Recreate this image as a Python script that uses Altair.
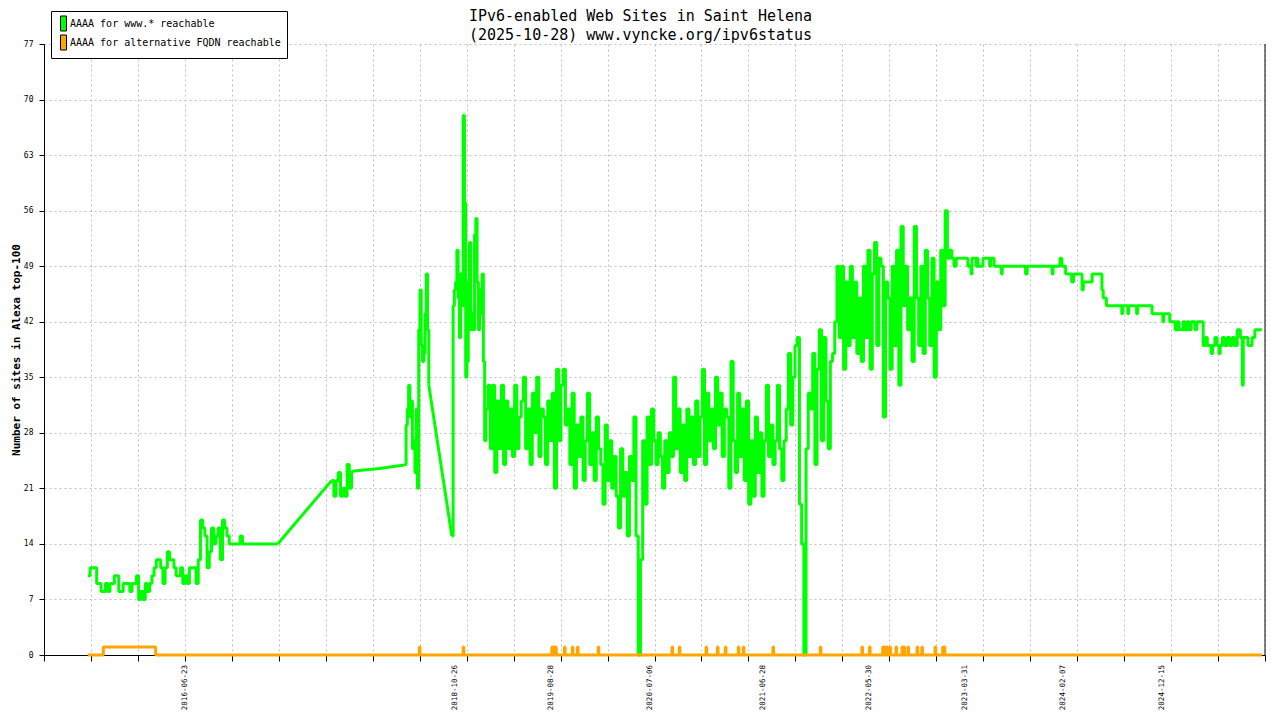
import altair as alt
import pandas as pd

GREEN = "#00ff00"
ORANGE = "#ffa500"
MONO = "DejaVu Sans Mono"
WWW = "AAAA for www.* reachable"
ALT = "AAAA for alternative FQDN reachable"
W, H = 1221, 611

# gnuplot autoscaled x range, the dated labels it printed, y ticks
x_start, x_end = "2015-04-03", "2025-11-07"
label_dates = ["2016-06-23", "2018-10-26", "2019-08-28", "2020-07-06", "2021-06-28",
               "2022-05-30", "2023-03-31", "2024-02-07", "2024-12-15"]
y_ticks = list(range(0, 78, 7))

# www.* reachable -- sampled blocks (first day, days between samples, values)
www_2015 = [10, 11, 11, 11, 9, 9, 8, 8, 9, 8,
            9, 9, 10, 10, 8, 8, 9, 9, 9, 8,
            9, 9, 10, 7, 8, 7, 9, 8, 9, 10,
            11, 12, 12, 11, 9, 11, 13, 12, 12, 11,
            10, 10, 11, 9, 10, 9, 11, 11, 11, 9,
            12, 17, 16, 15, 11, 13, 16, 14, 15, 16,
            12, 17, 16, 15, 14, 14, 14, 14, 14, 15,
            14, 14, 14, 14, 14, 14, 14, 14, 14, 14,
            14, 14, 14, 14, 14, 14, 14]
www_2017 = [22, 20, 22, 23, 20, 21, 20, 24, 21, 23]
www_2018_flat_dates = ["2017-12-10", "2018-03-01", "2018-05-14"]
www_2018_flat = [23.2, 23.5, 23.9]
www_2018a = [24, 29, 31, 34, 30, 32, 26, 27, 23, 31, 21, 41, 46, 39, 37, 38, 43, 48, 41, 34]
www_2018b = [15, 44, 46, 47, 51, 45, 40, 48, 44, 68, 57, 35, 37, 47, 52, 41, 43, 41,
             53, 55, 47, 41, 46, 43, 48, 37, 27]
www_2019 = [31, 34, 26, 34, 23, 32, 26, 34, 24, 32, 26, 31, 25, 34, 26, 30, 32,
            35, 26, 31, 24, 33, 28, 35, 25, 31,
            30, 24, 32, 27, 33, 21, 36, 27, 34, 36,
            29, 31, 24, 33, 21, 29, 25, 30, 22, 27,
            33, 24, 28, 22, 30, 26, 24, 19, 29, 22,
            27, 21, 25, 20, 16, 26, 20, 23, 15, 25,
            22, 30, 15, 0, 12, 27, 19, 30, 24, 31,
            27, 24, 28, 25, 21, 27, 23, 28, 25, 35,
            26, 31, 23, 29, 22, 31, 25, 30, 24,
            32, 25, 30, 36, 24, 33, 27, 31, 26, 35,
            29, 33, 25, 31, 30, 21, 37, 27, 23, 33,
            25, 31, 22, 32, 19, 27, 20, 30, 23, 28,
            20, 27, 34, 25, 29, 24, 27, 34, 26, 22,
            27, 31, 38, 29, 35, 39, 40, 19, 14, 0,
            26, 33, 31, 38, 24, 36, 41, 27, 40, 32,
            26, 37, 38, 42, 49, 40, 49, 36, 47, 39,
            49, 40, 47, 38, 45, 37, 49, 40, 51, 36,
            48, 52, 39, 50, 49, 30, 47, 45, 36, 49,
            39, 51, 34, 54, 44, 49, 41, 45, 37, 54,
            45, 39, 49, 38, 51, 45, 39, 50, 35, 47,
            41, 51, 44, 56, 50, 51, 50, 49, 50, 50]

# www.* reachable -- the quiet tail, as change points
www_tail_dates = ["2023-03-18", "2023-04-10", "2023-04-20", "2023-04-23", "2023-05-06",
                  "2023-05-09", "2023-05-12", "2023-05-28", "2023-06-18", "2023-06-21",
                  "2023-07-02", "2023-07-25", "2023-07-28", "2023-10-10", "2023-10-15",
                  "2024-01-02", "2024-01-05", "2024-01-27", "2024-02-02", "2024-02-14",
                  "2024-03-04", "2024-03-10", "2024-04-06", "2024-04-10", "2024-05-08",
                  "2024-06-08", "2024-06-12", "2024-06-22", "2024-08-10", "2024-08-13",
                  "2024-08-29", "2024-09-01", "2024-09-26", "2024-09-29", "2024-11-14",
                  "2024-12-18", "2024-12-21", "2025-01-09", "2025-01-26", "2025-02-01",
                  "2025-02-07", "2025-02-20", "2025-02-26", "2025-03-05", "2025-03-12",
                  "2025-03-18", "2025-03-30", "2025-04-05", "2025-04-25", "2025-05-01",
                  "2025-05-08", "2025-05-20", "2025-05-25", "2025-06-01", "2025-06-08",
                  "2025-06-14", "2025-06-18", "2025-06-25", "2025-07-02", "2025-07-10",
                  "2025-07-18", "2025-07-26", "2025-08-02", "2025-08-11", "2025-08-21",
                  "2025-08-27", "2025-08-30", "2025-09-14", "2025-09-27", "2025-10-06",
                  "2025-10-28"]
www_tail = [50, 49, 48, 50, 49,
            50, 49, 50, 49, 50,
            49, 48, 49, 48, 49,
            48, 49, 50, 49, 48,
            47, 48, 46, 47, 48,
            46, 45, 44, 43, 44,
            43, 44, 43, 44, 43,
            42, 43, 42, 41, 42,
            41, 42, 41, 42, 41,
            42, 41, 42, 39, 40,
            39, 38, 39, 40, 39,
            38, 39, 40, 39, 40,
            39, 40, 39, 41, 40,
            34, 40, 39, 40, 41,
            41]

# alternative FQDN reachable: early plateau, then single-day blips to 1
alt_dates = ["2015-08-20", "2015-10-08", "2016-03-22", "2025-10-28"]
alt_values = [0, 1, 0, 0]
alt_blip_days = ["2018-07-06", "2018-11-22", "2019-08-30", "2019-09-05", "2019-09-11",
                 "2019-10-09", "2019-11-03", "2019-11-19", "2020-01-24", "2020-09-14",
                 "2020-10-07", "2020-12-31", "2021-02-05", "2021-03-02", "2021-04-12",
                 "2021-04-28", "2021-07-31", "2021-12-28", "2022-05-09", "2022-06-02",
                 "2022-07-14", "2022-07-21", "2022-07-27", "2022-08-06", "2022-08-25",
                 "2022-09-13", "2022-09-19", "2022-10-02", "2022-10-31", "2022-11-15",
                 "2022-12-27", "2023-01-20", "2023-01-25"]


def ms(day):
    return int(pd.Timestamp(day).value // 10**6)


def block(start, step, values, seg):
    days = pd.date_range(start, periods=len(values), freq=f"{step}D")
    return pd.DataFrame({"date": days.strftime("%Y-%m-%d"), "sites": values, "seg": seg})


# daily samples jump in steps; the gaps without data are joined by straight lines
blk_a = block("2015-08-20", 7, www_2015, "a")
blk_b = block("2017-10-01", 7, www_2017, "b")
blk_c = block("2018-05-21", 4, www_2018a, "c")
blk_d = block("2018-10-17", 4, www_2018b, "d")
blk_e = block("2019-02-02", 7, www_2019, "d")
blk_t = pd.DataFrame({"date": www_tail_dates, "sites": www_tail, "seg": "d"})
stepped = pd.concat([blk_a, blk_b, blk_c, blk_d, blk_e, blk_t], ignore_index=True)

flat = pd.DataFrame({"date": www_2018_flat_dates, "sites": www_2018_flat, "seg": "g2"})
gaps = pd.concat([
    blk_a.tail(1).assign(seg="g1"), blk_b.head(1).assign(seg="g1"),
    blk_b.tail(1).assign(seg="g2"), flat, blk_c.head(1).assign(seg="g2"),
    blk_c.tail(1).assign(seg="g3"), blk_d.head(1).assign(seg="g3"),
], ignore_index=True)

blips = []
for d in alt_blip_days:
    blips += [(d, 1), ((pd.Timestamp(d) + pd.Timedelta(days=2)).strftime("%Y-%m-%d"), 0)]
orange = pd.DataFrame(list(zip(alt_dates, alt_values)) + blips, columns=["date", "sites"])
orange = orange.sort_values("date").reset_index(drop=True)

grid = dict(grid=True, gridColor="#c0c0c0", gridDash=[2, 3], gridWidth=1,
            domainColor="black", tickColor="black", labelColor="black")
x = alt.X("date:T", title=None,
          scale=alt.Scale(domain=[ms(x_start), ms(x_end)]),
          axis=alt.Axis(values=[ms(t) for t in pd.date_range(x_start, x_end, periods=27)],
                        labels=False, tickSize=6, **grid))
y = alt.Y("sites:Q",
          scale=alt.Scale(domain=[0, 77], nice=False),
          axis=alt.Axis(values=y_ticks, tickSize=5, labelPadding=6, labelFontSize=8,
                        title="Number of sites in Alexa top-100", titleFontSize=11,
                        titleFontWeight="bold", titleColor="black", titlePadding=2, **grid))

line_style = dict(strokeWidth=3, strokeJoin="bevel")
www_steps = alt.Chart(stepped).mark_line(
    interpolate="step-after", color=GREEN, **line_style).encode(x=x, y=y, detail="seg:N")
www_gaps = alt.Chart(gaps).mark_line(color=GREEN, **line_style).encode(
    x=x, y=y, detail="seg:N")
alt_line = alt.Chart(orange).mark_line(
    interpolate="step-after", color=ORANGE, **line_style).encode(x=x, y=y)

# key box: filled swatches with a black outline, like gnuplot's
key = alt.Chart(pd.DataFrame({"series": [WWW, ALT]})).mark_square(size=0).encode(
    fill=alt.Fill("series:N", scale=alt.Scale(domain=[WWW, ALT], range=[GREEN, ORANGE]),
                  legend=alt.Legend(
                      title=None, orient="none", legendX=7, legendY=-33,
                      fillColor="white", strokeColor="black", padding=6, rowPadding=0,
                      cornerRadius=0, symbolType="M-0.5,-1.25H0.5V1.25H-0.5Z",
                      symbolSize=144, symbolOpacity=1, symbolStrokeColor="black",
                      symbolStrokeWidth=1, labelOffset=0, labelLimit=0,
                      labelFont=MONO, labelFontSize=10, labelColor="black")))

date_labels = alt.Chart(pd.DataFrame({"date": label_dates, "label": label_dates})).mark_text(
    angle=270, align="right", baseline="middle", font=MONO, fontSize=7.5, color="black"
).encode(x=x, y=alt.value(H + 10), text="label:N")

right_edge = alt.Chart(pd.DataFrame({"date": [x_end]})).mark_rule(
    color="black", strokeWidth=1).encode(x=x, y=alt.value(0), y2=alt.value(H))

chart = (
    alt.layer(www_steps, www_gaps, alt_line, date_labels, right_edge, key)
    .properties(
        width=W, height=H,
        autosize=alt.AutoSizeParams(type="none"),
        padding={"left": 36, "top": 36, "right": 7, "bottom": 57},
        title=alt.TitleParams(
            text=["IPv6-enabled Web Sites in Saint Helena",
                  "(2025-10-28) www.vyncke.org/ipv6status"],
            anchor="middle", dx=-14, dy=38, offset=6, font=MONO, fontSize=15,
            fontWeight="normal", lineHeight=19, color="black"),
    )
    .configure(font=MONO)
    .configure_axis(labelFont=MONO, titleFont=MONO)
    .configure_view(stroke=None)
)

chart.save("out.html", embed_options={"renderer": "svg", "actions": False})
